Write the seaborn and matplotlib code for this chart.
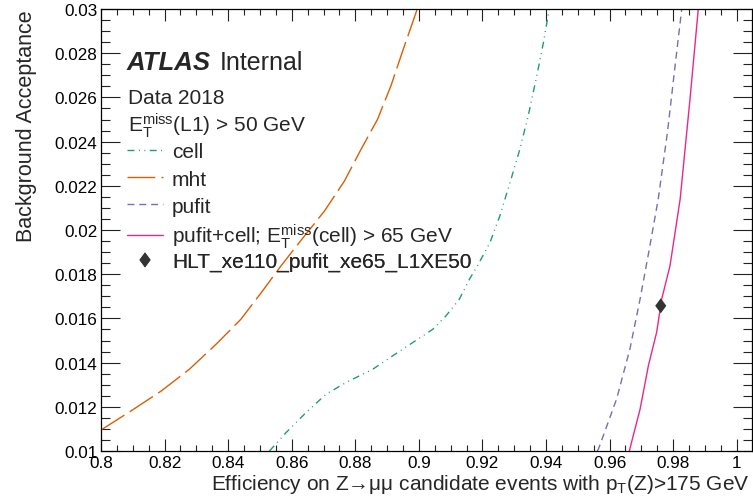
import matplotlib
matplotlib.use("Agg")
import matplotlib.pyplot as plt
import seaborn as sns
import pandas as pd
from matplotlib.ticker import MultipleLocator, FuncFormatter
from matplotlib.path import Path

# ---- data ----
cell_x = [0.8530, 0.8582, 0.8645, 0.8708, 0.8771, 0.8855, 0.8917, 0.8980, 0.9044,
          0.9085, 0.9127, 0.9159, 0.9187, 0.9224, 0.9255, 0.9287, 0.9318, 0.9344,
          0.9371, 0.9392, 0.9410]
cell_y = [0.0100, 0.01083, 0.01174, 0.01257, 0.01310, 0.01370, 0.01430, 0.01490, 0.01551,
          0.01611, 0.01686, 0.01777, 0.01845, 0.01944, 0.02065, 0.02216, 0.02367, 0.02517,
          0.02698, 0.02849, 0.0300]

mht_x = [0.8000, 0.8094, 0.8189, 0.8278, 0.8362, 0.8440, 0.8508, 0.8566, 0.8629,
         0.8703, 0.8766, 0.8818, 0.8870, 0.8912, 0.8949, 0.8995]
mht_y = [0.01095, 0.01181, 0.01271, 0.01370, 0.01483, 0.01596, 0.01724, 0.01837, 0.01953,
         0.02086, 0.02222, 0.02365, 0.02501, 0.02652, 0.02810, 0.0300]

pufit_x = [0.9561, 0.9565, 0.9622, 0.9664, 0.9696, 0.9725, 0.9753, 0.9782, 0.9806, 0.9827]
pufit_y = [0.0100, 0.01009, 0.01235, 0.01462, 0.01688, 0.01914, 0.02140, 0.02442, 0.02743, 0.0300]

pc_x = [0.9662, 0.9696, 0.9722, 0.9748, 0.9764, 0.9790, 0.9822, 0.9853, 0.9879]
pc_y = [0.0100, 0.0119, 0.01386, 0.01537, 0.01688, 0.01838, 0.02140, 0.02593, 0.0300]

hlt_x = [0.9761]
hlt_y = [0.01657]

labels = ["cell", "mht", "pufit",
          r"pufit+cell; E$_{\rm T}^{\rm miss}$(cell) > 65 GeV",
          "HLT_xe110_pufit_xe65_L1XE50"]
colors = ["#1b9e77", "#d95f02", "#7570b3", "#e7298a", "#333333"]

xticks = [0.8, 0.82, 0.84, 0.86, 0.88, 0.9, 0.92, 0.94, 0.96, 0.98, 1.0]
yticks = [0.01, 0.012, 0.014, 0.016, 0.018, 0.02, 0.022, 0.024, 0.026, 0.028, 0.03]

# ---- style ----
sns.set_theme(style="ticks")
plt.rcParams["font.family"] = ["Liberation Sans", "DejaVu Sans"]
plt.rcParams["mathtext.fontset"] = "custom"
plt.rcParams["mathtext.rm"] = "Liberation Sans"
plt.rcParams["mathtext.it"] = "Liberation Sans:italic"
plt.rcParams["mathtext.bf"] = "Liberation Sans:bold"
plt.rcParams["mathtext.sf"] = "Liberation Sans"

W, H = 753, 502
AX_L, AX_R, AX_T, AX_B = 101, 752, 10, 452

fig, ax = plt.subplots(figsize=(W / 100, H / 100), dpi=100)
fig.subplots_adjust(left=AX_L / W, right=AX_R / W, top=1 - AX_T / H, bottom=1 - AX_B / H)


def axx(px):
    return (px - AX_L) / (AX_R - AX_L)


def axy(py):
    return (AX_B - py) / (AX_B - AX_T)


styles = [(0, (5, 3.2, 0.7, 3.2, 0.7, 3.2)),
          (0, (20, 4.5)),
          (0, (5, 3.5)),
          "-"]
series = [(cell_x, cell_y), (mht_x, mht_y), (pufit_x, pufit_y), (pc_x, pc_y)]
handles = []
for (xs, ys), lab, col, ls in zip(series, labels[:4], colors[:4], styles):
    df = pd.DataFrame({"x": xs, "y": ys})
    sns.lineplot(data=df, x="x", y="y", ax=ax, color=col, linewidth=1.0,
                 sort=False, estimator=None, label=lab, legend=False)
    line = ax.lines[-1]
    line.set_linestyle(ls)
    handles.append(line)

diamond = Path([(-0.37, 0), (0, 0.5), (0.37, 0), (0, -0.5), (-0.37, 0)],
               [Path.MOVETO, Path.LINETO, Path.LINETO, Path.LINETO, Path.CLOSEPOLY])
sns.scatterplot(x=hlt_x, y=hlt_y, ax=ax, marker=diamond, s=117, color=colors[4],
                edgecolor="none", linewidth=0, label=labels[4], legend=False, zorder=5)
handles.append(ax.collections[-1])

ax.set_xlim(0.8, 1.0048)
ax.set_ylim(0.01, 0.03)
ax.set_xticks(xticks)
ax.set_yticks(yticks)
ax.xaxis.set_minor_locator(MultipleLocator(0.005))
ax.yaxis.set_minor_locator(MultipleLocator(0.0005))
fmt = FuncFormatter(lambda v, p: f"{v:g}")
ax.xaxis.set_major_formatter(fmt)
ax.yaxis.set_major_formatter(fmt)

ax.tick_params(which="both", direction="in", top=True, right=True,
               color="#222222", width=0.8, labelsize=12.3, labelcolor="black")
ax.tick_params(axis="x", which="major", length=8.8, pad=3.0)
ax.tick_params(axis="x", which="minor", length=4.4)
ax.tick_params(axis="y", which="major", length=13.7, pad=2.5)
ax.tick_params(axis="y", which="minor", length=6.8)
for sp in ax.spines.values():
    sp.set_visible(True)
    sp.set_linewidth(0.9)
    sp.set_color("black")

ax.set_xlabel(r"Efficiency on Z→μμ candidate events with p$_{\rm T}$(Z)>175 GeV",
              fontsize=15, ha="right", va="baseline")
ax.xaxis.set_label_coords(0.997, axy(490))
ax.set_ylabel("Background Acceptance", fontsize=15.5, ha="right", va="baseline")
ax.yaxis.set_label_coords(axx(32), 1.0)

ax.text(axx(127), axy(70), "ATLAS", transform=ax.transAxes,
        fontsize=18.5, fontweight="bold", fontstyle="italic", va="baseline")
ax.text(axx(220), axy(70), "Internal", transform=ax.transAxes,
        fontsize=18, va="baseline")
ax.text(axx(128), axy(104), "Data 2018", transform=ax.transAxes,
        fontsize=15, va="baseline")
ax.text(axx(128), axy(132), r"E$_{\rm T}^{\rm miss}$(L1) > 50 GeV",
        transform=ax.transAxes, fontsize=15, va="baseline")

leg_kw = dict(loc="upper left", frameon=False, fontsize=15, handlelength=1.73,
              handletextpad=0.43, labelspacing=0.385, borderpad=0, borderaxespad=0,
              scatterpoints=1, scatteryoffsets=[0.5])
# legend split in three blocks so that every row keeps the same pitch
groups = [([0, 1, 2], 143.5), ([3], 222.7), ([4], 253.2)]
for idx, top in groups:
    leg = ax.legend([handles[i] for i in idx], [labels[i] for i in idx],
                    bbox_to_anchor=(axx(127), axy(top)), **leg_kw)
    ax.add_artist(leg)

fig.savefig("out.png", dpi=100)
